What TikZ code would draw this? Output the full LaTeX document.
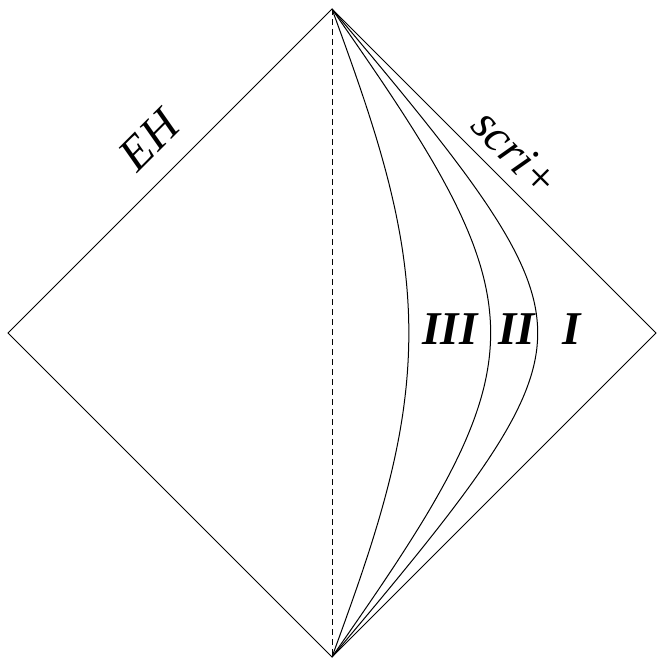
\documentclass[tikz,border=0pt]{standalone}
\usepackage{fontspec}
\setmainfont{Liberation Serif}
\begin{document}
\begin{tikzpicture}[x=1pt,y=-1pt,
  edge/.style={line width=1pt,black},
  curve/.style={line width=1pt,black},
  axisline/.style={line width=1pt,black,dash pattern=on 6pt off 4pt},
  reglabel/.style={font=\fontsize{47}{50}\selectfont\bfseries\itshape,inner sep=0pt},
  edgelabel/.style={font=\fontsize{47}{50}\selectfont\itshape,inner sep=0pt}]
\useasboundingbox (0,0) rectangle (662,658);
\coordinate (top) at (332,9);
\coordinate (bot) at (332,657);
\coordinate (left) at (8,333);
\coordinate (right) at (656,333);
\draw[edge] (top) -- (right) -- (bot) -- (left) -- cycle;
\draw[axisline] (top) -- (bot);
\foreach \c in {2.145,5.57,11.5}{
  \pgfmathsetmacro\k{sqrt(\c)}
  \draw[curve] (bot) -- plot[domain=-7:7,samples=240,smooth]
    ({332+324*(-1+atan(\k*exp(\x))/90+atan(\k*exp(-\x))/90)},
     {333-324*(atan(\k*exp(\x))/90-atan(\k*exp(-\x))/90)}) -- (top);
}
\node[reglabel] (III) at (450,329) {III};
\node[reglabel] (II) at (517,329) {II};
\node[reglabel] (I) at (572,329) {I};
\node[edgelabel,rotate=45] (EH) at (149,140) {EH};
\node[edgelabel,rotate=-45] (scri) at (516,153) {scri+};
\end{tikzpicture}
\end{document}
